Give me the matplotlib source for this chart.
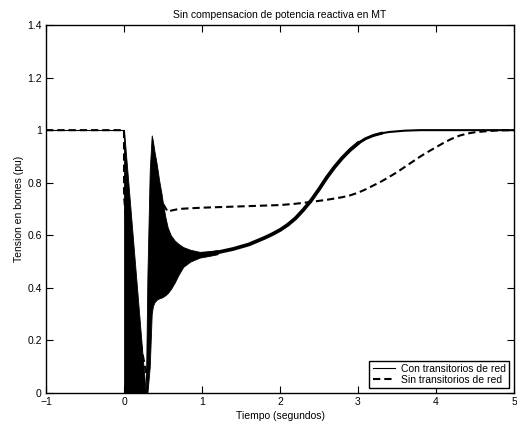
import matplotlib
matplotlib.use('Agg')
import matplotlib.pyplot as plt

plt.rcParams['font.family'] = ['Liberation Sans', 'DejaVu Sans']
plt.rcParams['axes.unicode_minus'] = True

# solid line, before the fault
t_pre = [-1.0, 0.0]
v_pre = [1.0, 1.0]

# oscillating band during the fault (envelopes)
t_band1 = [0.0, 0.0, 0.05, 0.10, 0.15, 0.20, 0.25, 0.28]
up_band1 = [1.0, 1.0, 0.82, 0.64, 0.46, 0.28, 0.10, 0.0]
lo_band1 = [1.0, 0.0, 0.0, 0.0, 0.0, 0.0, 0.0, 0.0]

# oscillating band after clearing
t_band2 = [0.28, 0.30, 0.33, 0.355, 0.37, 0.39, 0.42, 0.45, 0.48, 0.50, 0.53, 0.56, 0.60,
           0.65, 0.70, 0.76, 0.85, 0.97, 1.10, 1.20]
up_band2 = [0.0, 0.45, 0.85, 0.98, 0.96, 0.92, 0.87, 0.81, 0.76, 0.72, 0.67, 0.63, 0.60,
            0.58, 0.567, 0.555, 0.545, 0.537, 0.540, 0.544]
lo_band2 = [0.0, 0.0, 0.10, 0.30, 0.33, 0.345, 0.355, 0.36, 0.363, 0.366, 0.372, 0.38, 0.395,
            0.42, 0.45, 0.48, 0.50, 0.515, 0.522, 0.528]

# solid line after the oscillations
t_post = [1.0, 1.2, 1.4, 1.6, 1.8, 1.9, 2.0, 2.1, 2.2, 2.3, 2.4, 2.5, 2.6, 2.7, 2.8, 2.9,
          3.0, 3.1, 3.2, 3.3, 3.4, 3.6, 3.8, 5.0]
v_post = [0.527, 0.535, 0.548, 0.565, 0.59, 0.604, 0.62, 0.64, 0.665, 0.697, 0.733, 0.775, 0.82, 0.86, 0.895, 0.925,
          0.95, 0.968, 0.98, 0.988, 0.993, 0.998, 1.0, 1.0]

# dashed line (sin transitorios de red)
t_sin = [-1.0, 0.0, 0.0, 0.05, 0.10, 0.15, 0.20, 0.25, 0.30, 0.33, 0.38, 0.44, 0.50, 0.56, 0.62, 0.70, 0.80,
         1.0, 1.5, 2.0, 2.2, 2.4, 2.6, 2.8, 2.9, 3.0, 3.1, 3.2, 3.3, 3.4, 3.5, 3.6, 3.7, 3.8, 3.9,
         4.0, 4.1, 4.2, 4.3, 4.4, 4.5, 4.65, 4.8, 5.0]
v_sin = [1.0, 1.0, 0.75, 0.58, 0.45, 0.33, 0.21, 0.13, 0.05, 0.30, 0.70, 0.76, 0.72, 0.69, 0.695, 0.70, 0.702,
         0.705, 0.71, 0.715, 0.72, 0.727, 0.735, 0.745, 0.752, 0.762, 0.775, 0.79, 0.805, 0.822, 0.84, 0.86, 0.88, 0.90, 0.918,
         0.935, 0.952, 0.967, 0.979, 0.987, 0.992, 0.996, 0.999, 1.0]

xticks = [-1, 0, 1, 2, 3, 4, 5]
yticks = [0, 0.2, 0.4, 0.6, 0.8, 1, 1.2, 1.4]
ylabels = ['0', '0.2', '0.4', '0.6', '0.8', '1', '1.2', '1.4']

fig = plt.figure(figsize=(5.17, 4.23), dpi=100)
ax = fig.add_axes([0.089, 0.0709, 0.9052, 0.870])

ax.plot(t_pre, v_pre, color='k', lw=0.8, label='Con transitorios de red')
ax.fill_between(t_band1, lo_band1, up_band1, color='k', lw=0.6, edgecolor='k')
ax.fill_between(t_band2, lo_band2, up_band2, color='k', lw=0.6, edgecolor='k')
# the residual oscillation makes the line thicker, thinning out as it settles
ax.plot(t_post[:17], v_post[:17], color='k', lw=2.7)
ax.plot(t_post[15:20], v_post[15:20], color='k', lw=2.1)
ax.plot(t_post[18:], v_post[18:], color='k', lw=1.5)
ax.plot(t_sin, v_sin, color='k', lw=1.5, dashes=(3.5, 1.9), label='Sin transitorios de red')

ax.set_xlim(-1, 5)
ax.set_ylim(0, 1.4)
ax.set_xticks(xticks)
ax.set_yticks(yticks)
ax.set_yticklabels(ylabels)
ax.tick_params(direction='in', length=5, width=0.8, top=True, right=True, labelsize=7.5, pad=3)
for s in ax.spines.values():
    s.set_linewidth(1.0)

ax.set_title('Sin compensacion de potencia reactiva en MT', fontsize=7.5, pad=5)
ax.set_xlabel('Tiempo (segundos)', fontsize=7.5, labelpad=3)
ax.set_ylabel('Tension en bornes (pu)', fontsize=7.5, labelpad=2)

leg = ax.legend(loc='lower right', fontsize=7.5, fancybox=False, framealpha=1,
                edgecolor='k', borderpad=0.3, labelspacing=0.1, handlelength=2.2,
                handletextpad=0.5, borderaxespad=0.5)
leg.get_frame().set_linewidth(1.0)

fig.savefig('out.png', dpi=100)
